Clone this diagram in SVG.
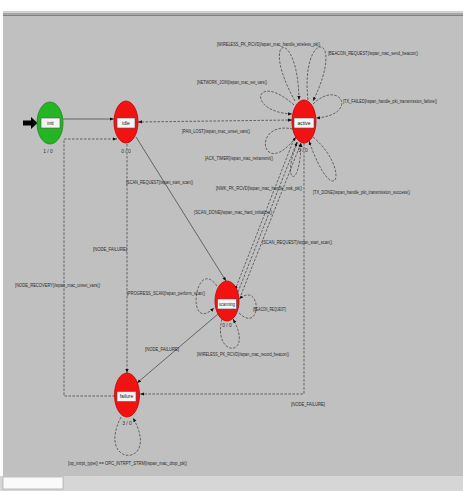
<svg xmlns="http://www.w3.org/2000/svg" width="463" height="491" viewBox="0 0 463 491">
<style>
.lbl{font-family:"Liberation Sans",Arial,sans-serif;font-size:4.6px;fill:#2a2a2a}
.nl{font-family:"Liberation Sans",Arial,sans-serif;font-size:5px;fill:#222;text-anchor:middle}
.cnt{font-family:"Liberation Sans",Arial,sans-serif;font-size:5px;fill:#333;text-anchor:middle}
.d{fill:none;stroke:#3c3c3c;stroke-width:0.7;stroke-dasharray:2.6 1.4}
.s{fill:none;stroke:#3c3c3c;stroke-width:0.7}
.red{fill:#f21212;stroke:#c40000;stroke-width:0.8}
.grn{fill:#24b424;stroke:#158a15;stroke-width:0.8}
.box{fill:#f4f4f4;stroke:#555;stroke-width:0.6}
</style>
<defs>
<marker id="ah" viewBox="0 0 10 10" refX="10" refY="5" markerWidth="4" markerHeight="4" orient="auto-start-reverse" markerUnits="userSpaceOnUse">
<path d="M0,1 L10,5 L0,9 z" fill="#111"/>
</marker>
</defs>
<rect x="0" y="0" width="463" height="491" fill="#ffffff"/>
<rect x="3" y="11" width="460" height="2" fill="#d2d2d2"/>
<rect x="3" y="13" width="460" height="1.5" fill="#a4a4a4"/>
<rect x="3" y="14.5" width="460" height="1.5" fill="#808080"/>
<rect x="3" y="16" width="460" height="460" fill="#c0c0c0"/>
<rect x="0" y="476" width="463" height="15" fill="#d6d6d6"/>
<rect x="3" y="477" width="60" height="12" fill="#fafafa" stroke="#9a9a9a" stroke-width="0.6"/>

<g id="connectors">
<polygon points="23,120.5 31,120.5 31,117 37.5,123 31,129 31,125.5 23,125.5" fill="#000"/>
<path class="s" d="M63,119 L114,119" marker-end="url(#ah)"/>
<path class="d" d="M292,120 L138,122" marker-start="url(#ah)" marker-end="url(#ah)"/>
<path class="s" d="M136,137 L226,281" marker-end="url(#ah)"/>
<path class="d" d="M127,144 L127,373" marker-end="url(#ah)"/>
<path class="d" d="M115,396 L64,396 L64,139 L117,139" marker-end="url(#ah)"/>
<path class="d" d="M304,143 L304,394 L140,394" marker-end="url(#ah)"/>
<path class="s" d="M218,314 L137,383" marker-end="url(#ah)"/>
<path class="d" d="M294,139 L235,290" marker-end="url(#ah)"/>
<path class="d" d="M238,292 L297,142" marker-end="url(#ah)"/>
<path class="d" d="M241,295 L301,143" marker-end="url(#ah)"/>
<path class="d" d="M295,101 C258,35 298,25 299,100" marker-end="url(#ah)"/>
<path class="d" d="M308,100 C300,28 348,30 313,101" marker-end="url(#ah)"/>
<path class="d" d="M294,105 C255,70 245,112 292,114" marker-end="url(#ah)"/>
<path class="d" d="M313,104 C340,78 360,115 316,118" marker-end="url(#ah)"/>
<path class="d" d="M293,129 C250,120 262,182 296,137" marker-end="url(#ah)"/>
<path class="d" d="M298,142 C280,180 300,195 301,143" marker-end="url(#ah)"/>
<path class="d" d="M313,137 C352,170 335,215 309,141" marker-end="url(#ah)"/>
<path class="d" d="M217,286 C195,255 185,335 214,308" marker-end="url(#ah)"/>
<path class="d" d="M239,313 C262,335 262,280 239,299" marker-end="url(#ah)"/>
<path class="d" d="M222,319 C212,358 255,358 233,319" marker-end="url(#ah)"/>
<path class="d" d="M121,417 C95,468 162,468 133,418" marker-end="url(#ah)"/>
</g>

<g id="labels">
<text class="lbl" x="217" y="46" textLength="103" lengthAdjust="spacingAndGlyphs">[WIRELESS_PK_RCVD]/wpan_mac_handle_wireless_pk()</text>
<text class="lbl" x="328" y="55" textLength="90" lengthAdjust="spacingAndGlyphs">[BEACON_REQUEST]/wpan_mac_send_beacon()</text>
<text class="lbl" x="197" y="84" textLength="70" lengthAdjust="spacingAndGlyphs">[NETWORK_JOIN]/wpan_mac_set_vars()</text>
<text class="lbl" x="343" y="103" textLength="94" lengthAdjust="spacingAndGlyphs">[TX_FAILED]/wpan_handle_pkt_transmission_failure()</text>
<text class="lbl" x="182" y="133" textLength="68" lengthAdjust="spacingAndGlyphs">[PAN_LOST]/wpan_mac_unset_vars()</text>
<text class="lbl" x="205" y="160" textLength="68" lengthAdjust="spacingAndGlyphs">[ACK_TIMER]/wpan_mac_retransmit()</text>
<text class="lbl" x="216" y="190" textLength="86" lengthAdjust="spacingAndGlyphs">[NWK_PK_RCVD]/wpan_mac_handle_nwk_pk()</text>
<text class="lbl" x="313" y="194" textLength="97" lengthAdjust="spacingAndGlyphs">[TX_DONE]/wpan_handle_pkt_transmission_success()</text>
<text class="lbl" x="194" y="214" textLength="78" lengthAdjust="spacingAndGlyphs">[SCAN_DONE]/wpan_mac_hard_initialize()</text>
<text class="lbl" x="262" y="244" textLength="70" lengthAdjust="spacingAndGlyphs">[SCAN_REQUEST]/wpan_start_scan()</text>
<text class="lbl" x="126" y="184" textLength="67" lengthAdjust="spacingAndGlyphs">[SCAN_REQUEST]/wpan_start_scan()</text>
<text class="lbl" x="93" y="251" textLength="34" lengthAdjust="spacingAndGlyphs">[NODE_FAILURE]</text>
<text class="lbl" x="15" y="287" textLength="85" lengthAdjust="spacingAndGlyphs">[NODE_RECOVERY]/wpan_mac_unset_vars()</text>
<text class="lbl" x="127" y="295" textLength="78" lengthAdjust="spacingAndGlyphs">[PROGRESS_SCAN]/wpan_perform_scan()</text>
<text class="lbl" x="253" y="311" textLength="33" lengthAdjust="spacingAndGlyphs">[BEACON_REQUEST]</text>
<text class="lbl" x="145" y="351" textLength="34" lengthAdjust="spacingAndGlyphs">[NODE_FAILURE]</text>
<text class="lbl" x="197" y="356" textLength="92" lengthAdjust="spacingAndGlyphs">[WIRELESS_PK_RCVD]/wpan_mac_record_beacon()</text>
<text class="lbl" x="291" y="406" textLength="34" lengthAdjust="spacingAndGlyphs">[NODE_FAILURE]</text>
<text class="lbl" x="68" y="465" textLength="119" lengthAdjust="spacingAndGlyphs">[op_intrpt_type() == OPC_INTRPT_STRM]/wpan_mac_drop_pk()</text>
</g>

<g id="node-init">
<ellipse class="grn" cx="50" cy="123" rx="13" ry="21"/>
<rect class="box" x="41" y="118" width="19" height="10"/>
<text class="nl" x="50.5" y="124.8">init</text>
<text class="cnt" x="48" y="153">1 / 0</text>
</g>
<g id="node-idle">
<ellipse class="red" cx="126" cy="122" rx="12" ry="21"/>
<rect class="box" x="117" y="118" width="18" height="10"/>
<text class="nl" x="126" y="124.8">idle</text>
<text class="cnt" x="126" y="153">0 / 0</text>
</g>
<g id="node-active">
<ellipse class="red" cx="304" cy="121.5" rx="12" ry="21.5"/>
<rect class="box" x="294" y="118" width="20" height="10"/>
<text class="nl" x="304" y="124.8">active</text>
<text class="cnt" x="303" y="152">0 / 0</text>
</g>
<g id="node-scanning">
<ellipse class="red" cx="227" cy="301" rx="12" ry="20"/>
<rect class="box" x="217.5" y="299" width="19" height="10"/>
<text class="nl" x="227" y="305.8" textLength="16" lengthAdjust="spacingAndGlyphs">scanning</text>
<text class="cnt" x="227" y="327">0 / 0</text>
</g>
<g id="node-failure">
<ellipse class="red" cx="127" cy="395" rx="12.5" ry="22"/>
<rect class="box" x="117" y="391.5" width="19" height="10"/>
<text class="nl" x="126.5" y="398.3">failure</text>
<text class="cnt" x="127" y="425">3 / 0</text>
</g>
</svg>
